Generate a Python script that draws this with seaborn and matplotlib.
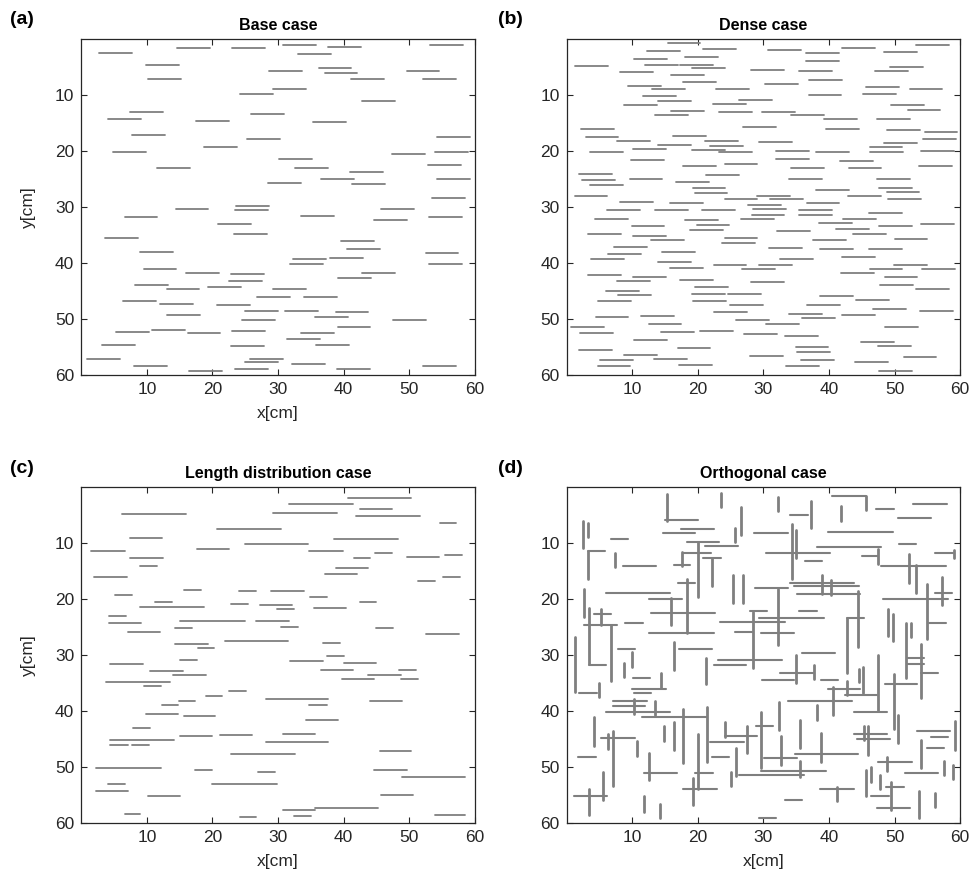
import numpy as np
import pandas as pd
import matplotlib
matplotlib.use("Agg")
import matplotlib.pyplot as plt
import seaborn as sns

# ---------------------------------------------------------------- data [cm]
SEG_LEN = 5.0  # fixed fracture length in the base and dense cases

# (a) Base case: left end x and depth y of each fracture
A_X = [2.75, 14.6, 23.0, 30.8, 37.6, 53.2, 33.1, 9.9, 28.6, 36.2,
       37.1, 49.6, 10.2, 41.1, 52.1, 24.2, 29.2, 42.8, 7.4, 4.1,
       17.5, 25.9, 35.3, 7.8, 25.3, 18.7, 54.3, 4.8, 54.0,
       11.6, 30.2, 32.6, 47.4, 52.9, 41.0, 36.6, 41.3, 54.3, 28.5,
       14.4, 23.6, 23.4, 53.5, 6.6, 33.5, 45.7, 44.6, 53.0, 20.9,
       23.3, 3.6, 39.6, 40.5, 9.0, 37.9, 32.3, 31.9, 52.5, 53.1,
       9.5, 16.0, 22.8, 22.5, 39.2, 42.8, 8.2, 13.0, 19.4, 29.2,
       6.4, 12.0, 20.7, 26.8, 34.0, 25.0, 31.1, 38.8, 13.1, 35.7,
       24.5, 47.5, 5.3, 10.8, 16.2, 23.0, 33.5, 39.1, 3.2, 22.8,
       31.4, 35.8, 0.9, 25.8, 25.0, 8.0, 32.1, 16.5, 23.5, 39.0, 52.1]
A_Y = [2.5, 1.5, 1.5, 1.0, 1.3, 1.0, 2.6, 4.5, 5.6, 5.2,
       6.1, 5.7, 7.0, 7.0, 7.0, 9.7, 8.9, 11.1, 13.0, 14.2,
       14.5, 13.3, 14.7, 17.0, 17.8, 19.2, 17.4, 20.2, 20.1,
       22.9, 21.4, 22.9, 20.4, 22.4, 23.7, 24.9, 25.8, 24.9, 25.6,
       30.3, 29.7, 30.5, 28.4, 31.7, 31.5, 30.3, 32.3, 31.8, 32.9,
       34.7, 35.5, 36.0, 37.4, 37.9, 39.0, 39.3, 40.1, 38.1, 40.2,
       41.0, 41.7, 41.9, 43.1, 42.7, 41.7, 43.8, 44.6, 44.2, 44.5,
       46.7, 47.2, 47.5, 46.1, 46.0, 48.6, 48.6, 48.7, 49.3, 49.6,
       50.1, 50.2, 52.2, 51.9, 52.5, 52.1, 52.4, 51.3, 54.6, 54.8,
       53.5, 54.5, 57.0, 57.0, 57.6, 58.3, 57.9, 59.2, 58.9, 58.8, 58.3]

# (b) Dense case
B_X = [15.4, 12.3, 20.8, 30.7, 36.5, 42.0, 48.4, 53.3, 10.3, 18.0,
       1.3, 11.9, 17.3, 19.1, 36.5, 8.1, 15.9, 28.1, 35.4, 47.0,
       49.3, 17.8, 9.4, 13.0, 22.8, 30.3, 37.0, 45.7, 52.3, 11.6,
       14.0, 8.7, 26.3, 22.3, 36.9, 45.2, 49.5, 15.9, 13.5, 23.2,
       29.8, 34.2, 39.3, 47.4, 52.0, 2.2, 2.9, 26.9, 39.6, 48.9,
       54.6, 54.4, 16.2, 7.7, 14.0, 21.1, 21.9, 29.3, 46.2, 48.4,
       3.6, 10.1, 19.1, 31.9, 38.0, 46.3, 54.0, 23.3,
       9.8, 24.1, 31.9, 41.7, 17.8, 34.2, 43.0, 53.8, 1.9, 2.4,
       9.6, 16.7, 21.3, 33.9, 47.4, 3.6, 19.2, 19.5, 38.0, 47.6,
       48.8, 1.2, 29.1, 24.1, 31.0, 42.9, 49.0, 8.1, 15.8, 27.7,
       36.6, 6.2, 13.5, 20.7, 28.4, 35.5, 28.2, 35.5, 46.1, 4.3,
       18.0, 26.6, 42.1, 38.5, 9.9, 19.8, 18.8, 47.7, 54.1, 41.1,
       3.3, 10.1, 32.1, 43.7, 12.9, 24.1, 23.7, 37.6, 50.0, 7.2,
       6.3, 14.5, 30.9, 38.6, 46.1, 42.0, 3.7, 14.0, 32.6, 22.4,
       29.4, 49.9,
       15.8, 26.7, 46.2, 54.2, 3.3, 10.1, 41.9, 48.5, 7.7, 17.3,
       28.1, 19.6, 47.8, 53.3, 6.0, 7.8, 19.1, 24.6, 38.7, 4.8,
       19.3, 24.9, 36.7, 44.1, 46.7, 22.5, 4.4, 11.4, 33.9, 35.9,
       42.0, 53.9, 25.8, 0.7, 12.5, 30.4, 48.6, 2.1, 14.4, 20.4,
       27.0, 33.3, 10.3, 44.9, 16.9, 34.9, 47.5, 1.9, 35.1, 8.7,
       28.0, 51.4, 5.1, 13.3, 35.8, 44.0, 4.7, 17.1, 33.5, 47.7]
B_Y = [0.6, 2.0, 1.7, 1.9, 2.5, 1.5, 2.2, 1.0, 3.6, 3.2,
       4.8, 4.5, 4.5, 5.2, 3.8, 5.8, 6.3, 5.5, 5.6, 5.6,
       5.0, 7.6, 8.3, 8.9, 8.9, 7.9, 7.3, 8.5, 8.8, 10.1,
       11.1, 11.8, 10.8, 11.6, 10.0, 9.7, 11.7, 12.8, 13.6, 12.9,
       12.9, 13.6, 14.3, 14.3, 12.7, 16.0, 17.4, 15.7, 16.1, 16.2,
       16.6, 17.8, 17.2, 18.2, 18.8, 18.1, 19.0, 18.4, 19.2, 18.5,
       20.1, 19.6, 19.7, 19.9, 20.1, 20.1, 19.9, 20.2,
       21.6, 22.2, 21.3, 21.7, 22.7, 22.9, 23.0, 22.7, 24.0, 25.1,
       24.9, 25.4, 24.3, 24.9, 24.9, 26.0, 26.5, 27.4, 26.9, 26.5,
       27.2, 28.0, 27.9, 28.6, 28.5, 27.9, 28.6, 29.0, 29.3, 29.6,
       29.2, 30.5, 30.4, 30.4, 30.3, 30.4, 31.3, 31.3, 31.1, 32.1,
       32.2, 32.1, 32.0, 32.8, 33.3, 33.2, 34.0, 33.4, 32.9, 33.8,
       34.8, 35.1, 34.3, 34.8, 35.8, 35.4, 36.3, 35.8, 35.6, 37.1,
       38.3, 37.9, 37.3, 37.5, 37.4, 38.8, 39.2, 39.7, 39.2, 40.3,
       40.3, 40.3,
       40.9, 41.1, 41.1, 41.1, 42.1, 42.4, 41.8, 42.4, 43.1, 43.0,
       43.4, 44.2, 43.8, 44.5, 44.9, 45.6, 45.5, 45.4, 45.8, 46.7,
       46.8, 47.4, 47.5, 46.6, 48.1, 48.7, 49.5, 49.4, 49.0, 49.8,
       49.2, 48.6, 50.1, 51.3, 50.8, 50.8, 51.3, 52.4, 52.2, 52.0,
       52.7, 52.9, 53.7, 54.0, 55.1, 54.9, 54.7, 55.5, 55.8, 56.3,
       56.5, 56.7, 57.3, 57.0, 57.3, 57.6, 58.4, 58.2, 58.3, 59.2]

# (c) Length distribution case: left end, right end, depth
C_X1 = [40.6, 31.7, 42.5, 6.2, 29.3, 41.9, 54.7, 20.7, 7.4, 38.6,
        24.9, 1.5, 17.7, 34.8, 44.8, 55.5, 7.5, 41.6, 49.6, 9.0,
        38.9, 37.1, 2.0, 51.4, 55.1, 5.2, 15.7, 24.1, 28.9, 34.9,
        11.3, 9.0, 22.8, 27.2, 29.9, 35.5, 42.5, 4.2, 4.2, 15.0,
        26.7, 7.1, 14.3, 30.5, 44.9, 52.6, 14.3, 17.8, 21.9, 36.8,
        4.4, 15.0, 31.9, 37.5, 40.1, 10.5, 14.0, 36.5, 43.7, 48.5,
        3.8, 39.8, 48.8, 9.6, 22.6, 19.0, 14.9, 28.1, 44.0, 12.3,
        34.8,
        9.9, 15.6, 34.2, 7.9, 4.4, 4.4, 7.7, 15.0, 21.2, 30.8,
        28.1, 22.8, 45.5, 2.3, 17.4, 27.0, 44.6, 48.9, 4.1, 20.0,
        2.2, 10.1, 45.7, 6.6, 24.2, 30.7, 35.6, 32.5, 54.0]
C_X2 = [50.3, 41.4, 47.4, 15.9, 39.0, 51.7, 57.2, 30.4, 12.3, 48.3,
        34.6, 6.6, 22.6, 39.9, 47.4, 58.0, 12.4, 44.1, 54.5, 11.5,
        43.8, 42.0, 7.0, 53.9, 57.7, 7.7, 18.2, 26.6, 33.9, 37.4,
        13.9, 18.7, 25.4, 32.1, 32.4, 40.4, 45.0, 6.8, 9.1, 24.9,
        31.7, 12.0, 16.9, 33.0, 47.6, 57.6, 19.4, 20.3, 31.6, 39.4,
        9.4, 17.6, 36.8, 40.1, 45.0, 15.5, 19.0, 41.4, 48.7, 51.1,
        13.6, 44.7, 51.3, 12.1, 25.1, 21.5, 17.4, 37.7, 48.9, 14.8,
        37.4,
        14.8, 20.4, 39.1, 10.5, 14.1, 7.1, 10.3, 19.9, 26.1, 35.7,
        37.7, 32.6, 50.3, 12.1, 20.0, 29.5, 49.6, 58.5, 6.7, 29.9,
        7.1, 15.0, 50.6, 9.0, 26.7, 35.6, 45.3, 35.1, 58.5]
C_Y = [1.9, 2.9, 3.8, 4.8, 4.5, 5.2, 6.3, 7.4, 9.0, 9.3,
       10.1, 11.3, 11.0, 11.3, 11.7, 12.0, 12.6, 12.7, 12.4, 14.1,
       14.4, 15.4, 16.0, 16.8, 16.0, 19.2, 18.3, 18.5, 18.5, 19.5,
       20.4, 21.3, 20.8, 21.1, 21.8, 21.5, 20.4, 22.9, 24.3, 23.8,
       23.8, 25.8, 25.2, 24.9, 25.2, 26.2, 27.9, 28.7, 27.4, 27.8,
       31.6, 30.9, 31.0, 30.2, 31.3, 32.8, 33.5, 32.6, 33.5, 32.6,
       34.7, 34.3, 34.2, 35.4, 36.3, 37.2, 38.1, 37.8, 38.2, 38.8,
       38.8,
       40.4, 40.9, 41.5, 43.0, 45.2, 46.0, 46.0, 44.4, 44.2, 44.1,
       45.4, 47.6, 47.0, 50.1, 50.4, 50.9, 50.4, 51.7, 53.0, 52.9,
       54.3, 55.2, 54.9, 58.3, 58.8, 57.7, 57.2, 58.7, 58.6]

# (d) Orthogonal case, horizontal fractures: left end, right end, depth
D_HX1 = [40.4, 52.8, 47.2, 34.1, 15.0, 50.6, 17.4, 14.7, 28.6, 39.8,
         6.7, 18.3, 21.1, 50.7, 38.2, 3.2, 17.7, 30.4, 56.1, 20.8,
         45.0, 36.4, 8.6, 16.3, 48.0, 16.9, 34.1, 28.7, 34.7, 6.0,
         35.1, 56.1,
         48.3, 12.6, 12.8, 4.2, 2.7, 8.9, 12.6, 27.9, 35.5, 29.3,
         23.4, 25.7, 29.7, 42.8, 55.2, 7.9, 17.1, 35.9, 23.1, 22.4,
         3.4, 51.9, 51.9, 54.0, 32.6, 10.1, 29.8, 38.8, 48.6, 10.0,
         10.3, 1.9, 39.8, 42.5, 33.8, 7.1, 7.1,
         6.0, 11.5, 43.8, 28.8, 43.8, 44.2, 53.5, 55.5, 54.9, 5.3,
         24.2, 21.9, 34.8, 30.1, 22.1, 1.7, 47.5, 29.6, 26.3, 51.6,
         11.8, 19.6, 17.8, 38.7, 48.7, 1.1, 33.3, 46.4, 47.3, 29.3]
D_HX2 = [45.6, 58.0, 49.9, 36.8, 20.0, 55.5, 22.4, 19.6, 33.7, 49.7,
         9.3, 23.3, 26.1, 53.3, 48.0, 5.8, 22.0, 40.2, 58.9, 23.5,
         47.5, 39.0, 13.6, 18.8, 57.9, 19.5, 43.8, 33.7, 44.6, 15.8,
         44.8, 58.7,
         58.1, 17.6, 22.6, 6.8, 7.7, 11.6, 22.5, 30.6, 38.1, 39.2,
         33.3, 28.3, 34.7, 45.4, 57.8, 10.4, 22.1, 40.9, 32.9, 27.4,
         6.0, 54.5, 54.5, 56.6, 37.6, 12.7, 34.7, 41.4, 53.5, 15.1,
         12.9, 4.6, 44.7, 47.4, 43.5, 12.3, 11.9,
         15.8, 21.4, 48.8, 31.4, 48.9, 49.3, 58.5, 58.1, 57.6, 10.4,
         29.1, 27.0, 44.5, 35.2, 24.7, 4.4, 52.6, 39.6, 36.2, 56.7,
         16.8, 22.3, 22.9, 43.8, 51.4, 6.2, 35.9, 49.1, 52.3, 31.9]
D_HY = [1.5, 2.9, 3.8, 5.0, 5.8, 5.5, 7.4, 8.2, 8.2, 7.9,
        9.2, 9.7, 10.4, 10.2, 10.7, 11.4, 11.8, 11.8, 11.8, 12.6,
        12.3, 13.2, 14.1, 13.9, 14.1, 17.0, 17.0, 17.9, 17.7, 18.8,
        19.0, 18.8,
        20.0, 19.9, 22.4, 22.7, 24.5, 24.2, 26.1, 22.1, 22.0, 23.3,
        24.0, 25.9, 26.1, 23.3, 24.2, 28.8, 28.8, 29.6, 30.9, 31.8,
        31.8, 30.4, 31.6, 33.1, 33.1, 34.1, 34.4, 34.4, 35.1, 36.0,
        36.7, 36.7, 36.0, 37.1, 38.1, 38.2, 39.0,
        40.2, 41.0, 40.2, 42.6, 44.0, 44.9, 43.5, 44.5, 46.5, 44.7,
        44.4, 45.5, 47.7, 48.4, 48.2, 48.1, 49.0, 50.6, 51.3, 51.1,
        51.0, 51.1, 53.8, 53.8, 53.6, 55.1, 55.8, 55.2, 57.2, 59.0]

# (d) Orthogonal case, vertical fractures: position, top end, bottom end
D_VX = [15.3, 23.5, 32.2, 37.2, 45.6, 26.6, 41.9, 2.5, 3.2, 25.7,
        34.3, 35.0, 3.3, 7.4, 20.1, 17.6, 22.1, 47.5, 52.2, 53.2,
        59.0, 25.4, 26.9, 38.9, 40.3, 2.6,
        18.4, 55.0, 57.2, 32.3, 15.9, 44.5, 5.2, 3.4, 6.7, 1.3,
        28.4, 42.8, 16.3, 9.9, 8.8, 21.3, 34.9, 37.7, 49.0, 49.8,
        51.7, 52.5, 54.1, 47.5, 45.2, 44.6, 42.8, 40.6, 14.4, 5.0,
        49.9, 13.5, 10.3, 32.4, 38.1, 21.4, 17.8,
        50.6, 59.2, 54.1, 4.1, 6.3, 7.0, 10.7, 14.9, 16.3, 20.0,
        19.2, 12.6, 11.8, 14.3, 5.6, 3.4, 24.2, 27.5, 29.6, 25.8,
        25.1, 32.7, 35.6, 35.6, 38.8, 41.2, 45.4, 46.0, 45.7, 46.4,
        47.8, 48.9, 49.5, 57.6, 58.9, 53.8, 56.2]
D_VY1 = [1.2, 1.0, 1.8, 2.4, 1.5, 3.6, 3.4, 6.1, 6.3, 7.3,
         6.5, 7.7, 11.4, 11.7, 9.8, 11.5, 12.6, 11.1, 11.9, 13.9,
         11.2, 15.6, 15.6, 15.6, 16.5, 18.2,
         16.4, 17.3, 16.1, 18.2, 19.8, 18.5, 21.7, 21.5, 24.6, 26.7,
         22.3, 23.3, 27.6, 29.4, 31.3, 30.4, 30.0, 31.7, 21.7, 22.6,
         24.3, 24.2, 27.9, 30.0, 32.0, 32.4, 34.6, 35.6, 33.1, 34.9,
         33.3, 38.2, 37.8, 38.3, 38.9, 39.2, 39.5,
         40.7, 41.8, 45.2, 41.1, 44.1, 43.5, 45.3, 42.7, 41.9, 44.1,
         51.9, 47.5, 55.2, 56.5, 50.9, 53.8, 41.9, 42.6, 40.2, 46.5,
         50.8, 44.4, 41.5, 48.9, 43.9, 53.6, 42.6, 42.7, 50.4, 49.9,
         51.4, 48.1, 52.6, 48.8, 49.6, 54.3, 54.5]
D_VY2 = [6.0, 3.6, 4.3, 7.3, 4.1, 8.5, 6.1, 10.8, 8.8, 9.8,
         16.3, 12.6, 16.4, 14.2, 19.6, 14.1, 17.7, 13.7, 17.0, 18.8,
         12.6, 20.7, 20.7, 19.0, 19.2, 23.2,
         26.1, 27.0, 21.0, 28.1, 24.6, 28.5, 24.5, 31.5, 34.5, 36.5,
         32.3, 33.1, 32.6, 32.1, 33.8, 35.2, 35.0, 34.2, 26.6, 27.5,
         34.1, 26.7, 37.7, 40.0, 36.8, 34.8, 37.0, 40.7, 35.8, 37.4,
         43.2, 40.7, 40.5, 43.3, 41.5, 49.0, 49.3,
         45.7, 46.9, 50.2, 46.2, 46.7, 53.3, 47.9, 45.3, 46.9, 53.8,
         56.7, 52.3, 57.9, 59.1, 55.8, 58.6, 44.5, 47.5, 50.2, 51.5,
         53.3, 49.5, 46.6, 51.7, 49.0, 56.1, 45.1, 47.8, 55.2, 52.6,
         53.9, 50.6, 57.6, 51.4, 52.0, 59.1, 57.0]

TITLES = ["Base case", "Dense case", "Length distribution case", "Orthogonal case"]
PANEL_TAGS = ["(a)", "(b)", "(c)", "(d)"]
TICKS = [10, 20, 30, 40, 50, 60]

# ---------------------------------------------------------------- style
sns.set_theme(style="white")
plt.rcParams["font.family"] = ["Liberation Sans", "DejaVu Sans"]
FRAC_COLOR = "#7f7f7f"
AX_COLOR = "#262626"


def segments(x1, x2, y1, y2):
    """Long-form table with one row per segment end point."""
    x1, x2, y1, y2 = (np.asarray(v, dtype=float) for v in (x1, x2, y1, y2))
    n = len(x1)
    return pd.DataFrame({
        "seg": np.repeat(np.arange(n), 2),
        "x": np.column_stack([x1, x2]).ravel(),
        "y": np.column_stack([y1, y2]).ravel(),
    })


def draw(ax, df, lw):
    sns.lineplot(data=df, x="x", y="y", units="seg", estimator=None,
                 sort=False, color=FRAC_COLOR, lw=lw, ax=ax, legend=False)


fig = plt.figure(figsize=(9.72, 8.82), dpi=100)
W, H = 972.0, 882.0
ax_w, ax_h = 393.4, 336.0
lefts = [81.3, 566.7]
tops = [39.3, 487.3]
axes = []
for r in range(2):
    for c in range(2):
        axes.append(fig.add_axes([lefts[c] / W, 1 - (tops[r] + ax_h) / H,
                                  ax_w / W, ax_h / H]))

ax_a, ax_b, ax_c, ax_d = axes

a_x = np.asarray(A_X)
draw(ax_a, segments(a_x, a_x + SEG_LEN, A_Y, A_Y), 1.3)
b_x = np.asarray(B_X)
draw(ax_b, segments(b_x, b_x + SEG_LEN, B_Y, B_Y), 1.3)
draw(ax_c, segments(C_X1, C_X2, C_Y, C_Y), 1.3)
draw(ax_d, segments(D_HX1, D_HX2, D_HY, D_HY), 1.5)
draw(ax_d, segments(D_VX, D_VX, D_VY1, D_VY2), 2.0)

for i, ax in enumerate(axes):
    ax.set_xlim(0, 60)
    ax.set_ylim(60, 0)
    ax.set_xticks(TICKS)
    ax.set_yticks(TICKS)
    ax.set_xlabel("")
    ax.set_ylabel("")
    for sp in ax.spines.values():
        sp.set_visible(True)
        sp.set_color(AX_COLOR)
        sp.set_linewidth(0.9)
    ax.tick_params(direction="in", length=4, width=0.8, top=True, right=True,
                   bottom=True, left=True, labelsize=12.5, colors=AX_COLOR,
                   pad=5)
    ax.set_title(TITLES[i], fontsize=11.5, fontweight="bold", pad=7,
                 color="#000000")
    ax.grid(False)

for ax in (ax_a, ax_c, ax_d):
    ax.set_xlabel("x[cm]", fontsize=12.5, color=AX_COLOR, labelpad=6)
for ax in (ax_a, ax_c):
    ax.set_ylabel("y[cm]", fontsize=12.5, color=AX_COLOR, labelpad=14)

tag_pos = [(10, 20), (498, 20), (10, 468), (498, 468)]
for tag, (px, py) in zip(PANEL_TAGS, tag_pos):
    fig.text(px / W, 1 - py / H, tag, fontsize=14, fontweight="bold",
             ha="left", va="center", color="#000000")

fig.savefig("out.png", dpi=100, facecolor="white")
